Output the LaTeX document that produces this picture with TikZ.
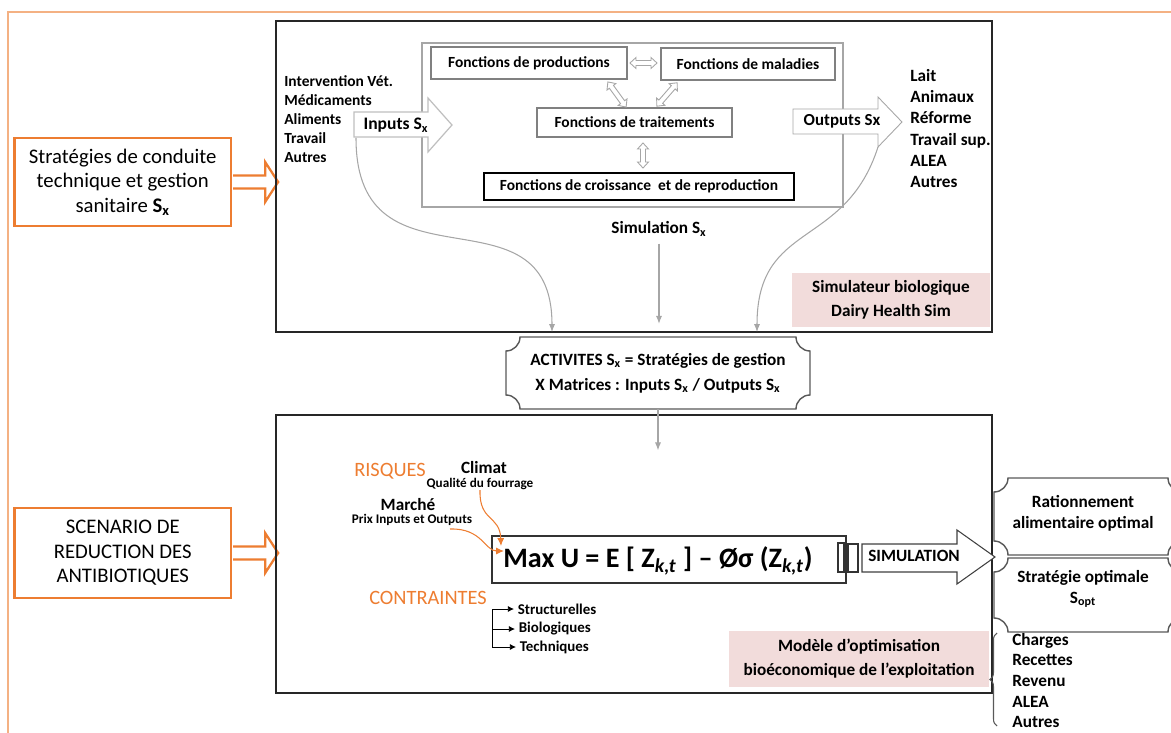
\documentclass[tikz,border=0pt]{standalone}
\usepackage{fontspec}
\setmainfont{Carlito}
\usepackage{tikz}
\usetikzlibrary{arrows.meta,positioning,calc,decorations.pathreplacing}

\definecolor{orangefonce}{RGB}{237,125,49}
\definecolor{orangeclair}{RGB}{244,177,131}
\definecolor{rosepale}{RGB}{242,220,219}
\definecolor{grismoyen}{RGB}{166,166,166}
\definecolor{grisclair}{RGB}{191,191,191}
\definecolor{grisfonce}{RGB}{89,89,89}

\tikzset{
  taille/.style 2 args={minimum width=#1*0.02cm, minimum height=#2*0.02cm},
  cadre/.style={draw=black!85, line width=0.6pt, inner sep=0pt},
  fonction/.style={draw=black!50, line width=0.6pt, inner sep=0pt, font=\bfseries\fontsize{8.8}{10.8}\selectfont},
  orcadre/.style={draw=orangefonce, line width=1.3pt, align=center, inner sep=0pt, font=\fontsize{11.8}{13.9}\selectfont},
  orfleche/.style={draw=orangefonce, line width=1.3pt, fill=white},
  txtpetit/.style={font=\bfseries\fontsize{8.8}{10.8}\selectfont, align=left, inner sep=0pt},
  txtmoyen/.style={font=\bfseries\fontsize{9.8}{12}\selectfont, align=center, inner sep=0pt},
  txtmini/.style={font=\bfseries\fontsize{7.5}{9}\selectfont, inner sep=0pt},
  txtorange/.style={font=\fontsize{11.6}{13}\selectfont, text=orangefonce, inner sep=0pt},
  rose/.style={fill=rosepale, inner sep=0pt},
  grisfl/.style={draw=grismoyen, line width=0.6pt, -{Latex[length=4.5pt,width=3.5pt]}},
  orfl/.style={draw=orangefonce, line width=0.6pt, -{Latex[length=4.5pt,width=4pt]}},
  noirfl/.style={draw=black, line width=0.5pt, -{Latex[length=3.5pt,width=3.5pt]}},
  plaqueline/.style={draw=grisfonce, line width=0.8pt, fill=white},
  creux/.style={draw=grismoyen, line width=0.5pt, fill=white},
  blocfl/.style={draw=black!75, line width=0.6pt, fill=white},
}

\newcommand\plaque[5]{%
  \draw[plaqueline] (#1,#2+#5) .. controls (#1+0.55*#5,#2+#5) and (#1+#5,#2+0.55*#5) .. (#1+#5,#2)
    -- (#3-#5,#2) .. controls (#3-#5,#2+0.55*#5) and (#3-0.55*#5,#2+#5) .. (#3,#2+#5)
    -- (#3,#4-#5) .. controls (#3-0.55*#5,#4-#5) and (#3-#5,#4-0.55*#5) .. (#3-#5,#4)
    -- (#1+#5,#4) .. controls (#1+#5,#4-0.55*#5) and (#1+0.55*#5,#4-#5) .. (#1,#4-#5) -- cycle;}

\newcommand\fldouble[4]{%
  \begin{scope}[shift={(#1,#2)},rotate=#3]
    \draw[creux] (-#4/2,0) -- (-#4/2+6,5.5) -- (-#4/2+6,2.5) -- (#4/2-6,2.5) -- (#4/2-6,5.5)
      -- (#4/2,0) -- (#4/2-6,-5.5) -- (#4/2-6,-2.5) -- (-#4/2+6,-2.5) -- (-#4/2+6,-5.5) -- cycle;
  \end{scope}}

\newcommand\orfleche[1]{%
  \draw[orfleche] (#1.east) ++(1,-6.5) -- ++(32,0) -- ++(0,-13.5) -- ++(13,20) -- ++(-13,20)
    -- ++(0,-13.5) -- ++(-32,0);}

\begin{document}
\begin{tikzpicture}[x=0.02cm, y=-0.02cm]
  \useasboundingbox (0,0) rectangle (1171,733);
  \draw[orangeclair, line width=1.2pt] (8,733) -- (8,12) -- (1171,12);

  \node[orcadre, taille={216.5}{88}] (strat) at (122.75,182) {Stratégies de conduite\\technique et gestion\\sanitaire \textbf{S\textsubscript{x}}};
  \node[orcadre, taille={216.5}{90}] (scen) at (122.75,553) {SCENARIO DE\\REDUCTION DES\\ANTIBIOTIQUES};
  \orfleche{strat}
  \orfleche{scen}

  \node[cadre, taille={716}{311}] (simbox) at (634,176.5) {};
  \node[draw=grismoyen, line width=0.8pt, taille={421}{164}] (interne) at (632.5,125) {};
  \node[fonction, taille={196}{32}] (prod) at (529,63) {Fonctions de productions};
  \node[fonction, taille={174}{32}] (mal) at (748,64) {Fonctions de maladies};
  \node[fonction, taille={195}{29}] (trait) at (634.5,122.5) {Fonctions de traitements};
  \node[fonction, draw=black, taille={310}{27}] (crois) at (639,186.5) {Fonctions de croissance~ et de reproduction};
  \fldouble{643.5}{63}{0}{27}
  \fldouble{617}{94.5}{-54}{31}
  \fldouble{667}{94.5}{49}{31}
  \fldouble{643}{155.5}{90}{25}

  \draw[creux, draw=grisclair, line width=0.7pt] (354,112) -- (428,112) -- (428,98) -- (452,125) -- (428,152) -- (428,137) -- (354,137) -- cycle;
  \node[font=\bfseries\fontsize{10}{12}\selectfont, inner sep=0pt] (inputs) at (396,125) {Inputs S\textsubscript{x}};
  \node[txtpetit, anchor=west] (intrants) at (284,119) {Intervention Vét.\\Médicaments\\Aliments\\Travail\\Autres};

  \draw[creux] (793,109) -- (878,109) -- (878,97) -- (902,122) -- (878,147) -- (878,134) -- (793,134) -- cycle;
  \node[font=\bfseries\fontsize{9.6}{12}\selectfont, inner sep=0pt] (outputs) at (842,121) {Outputs Sx};
  \node[txtmoyen, align=left, anchor=west] (extrants) at (910,128.5) {Lait\\Animaux\\Réforme\\Travail sup.\\ALEA\\Autres};

  \node[txtmoyen] (simlab) at (659,229) {Simulation S\textsubscript{x}};
  \draw[grisfl, shorten <=4pt, shorten >=5pt] (simlab.south) -- (simlab.south |- simbox.south);
  \node[rose, taille={198}{54}, txtmoyen, font=\bfseries\fontsize{9.8}{13.7}\selectfont] (simbio) at (891,300) {Simulateur biologique\\Dairy Health Sim};

  \coordinate (inbas) at (356,138);
  \coordinate (outbas) at (878,147);
  \coordinate (actg) at (552,332);
  \coordinate (actd) at (757,332);
  \draw[grisfl] (inbas) .. controls (356,300) and (552,180) .. (actg);
  \draw[grisfl] (outbas) .. controls (845,250) and (757,220) .. (actd);

  \plaque{506}{337}{810}{409}{14}
  \node[txtmoyen, font=\bfseries\fontsize{9.8}{14.2}\selectfont, taille={304}{72}] (act) at (658,373) {ACTIVITES S\textsubscript{x} = Stratégies de gestion\\X Matrices : Inputs S\textsubscript{x} / Outputs S\textsubscript{x}};

  \node[cadre, taille={716}{278}] (optbox) at (634,554) {};
  \draw[grisfl] (act.south) -- ++(0,41);

  \node[txtorange] (risques) at (390,471) {RISQUES};
  \node[txtmoyen] (climat) at (484,468) {Climat};
  \node[txtmini] (qualite) at (480,484) {Qualité du fourrage};
  \node[txtmoyen] (marche) at (408,505) {Marché};
  \node[txtmini] (prix) at (412,520) {Prix Inputs et Outputs};
  \node[txtorange] (contraintes) at (428,598) {CONTRAINTES};

  \node[draw=black!80, line width=1pt, taille={354}{47}] (maxu) at (669,559.5) {};
  \node[font=\bfseries\fontsize{16}{18}\selectfont, anchor=west, inner sep=0pt] (formule) at (503,561) {Max U = E [ Z\textsubscript{\textit{k,t}} ] – Øσ (Z\textsubscript{\textit{k,t}})};
  \coordinate (flA) at (501,546);
  \coordinate (flB) at (504,551);
  \draw[orfl] (qualite.south) .. controls (479,522) and (500,515) .. (flA);
  \draw[orfl] ($(prix.south)+(38,3)$) .. controls (482,528) and (485,551) .. (flB);

  \node[txtpetit, font=\bfseries\fontsize{8.5}{10}\selectfont, inner sep=2pt, anchor=west] (structu) at (514,609) {Structurelles};
  \node[txtpetit, font=\bfseries\fontsize{8.5}{10}\selectfont, inner sep=2pt, anchor=west] (biolo) at (515,629) {Biologiques};
  \node[txtpetit, font=\bfseries\fontsize{8.5}{10}\selectfont, inner sep=2pt, anchor=west] (techn) at (516,647) {Techniques};
  \coordinate (crochet) at (492,609);
  \draw[noirfl] (crochet) -- (structu.west);
  \draw[noirfl] (crochet |- biolo.west) -- (biolo.west);
  \draw[noirfl] (crochet) |- (techn.west);

  \draw[black!80, line width=0.6pt] (838,543) rectangle (844,572);
  \draw[black!80, line width=0.6pt] (848,544) rectangle (858,572);
  \draw[blocfl] (862,544) -- (957,544) -- (957,530) -- (995,557) -- (957,584) -- (957,572) -- (862,572) -- cycle;
  \node[txtmoyen] (simu) at (914,556) {SIMULATION};

  \plaque{994}{478}{1182}{555}{14}
  \plaque{994}{558}{1182}{632}{14}
  \node[txtmoyen] (ration) at (1083,513.5) {Rationnement\\alimentaire optimal};
  \node[txtmoyen] (stratopt) at (1083,589) {Stratégie optimale\\S\textsubscript{opt}};
  \draw[grisfonce, line width=0.6pt, decorate, decoration={brace, amplitude=4pt}] (997,726) -- (997,633);
  \node[txtmoyen, align=left, anchor=west, font=\bfseries\fontsize{9.8}{11.8}\selectfont] (bilan) at (1012,680.5) {Charges\\Recettes\\Revenu\\ALEA\\Autres};

  \node[rose, taille={260}{56}, txtmoyen, font=\bfseries\fontsize{9.8}{13.7}\selectfont] (modele) at (859,659) {Modèle d’optimisation\\bioéconomique de l’exploitation};
\end{tikzpicture}
\end{document}
